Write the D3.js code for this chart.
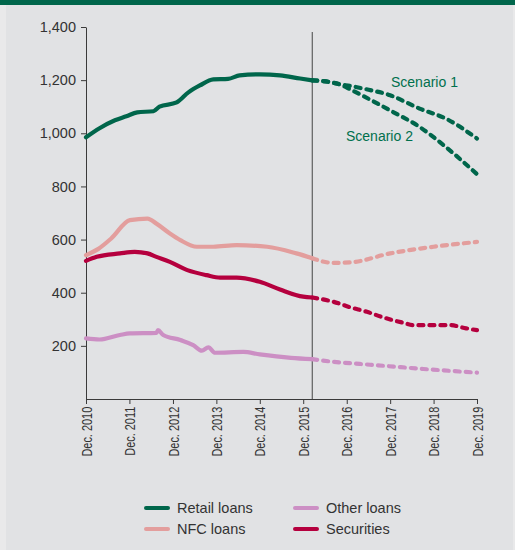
<!DOCTYPE html>
<html>
<head>
<meta charset="utf-8">
<script src="https://cdn.jsdelivr.net/npm/d3@7"></script>
<style>
  body { margin: 0; background: #e9e9ea; }
  svg { display: block; }
</style>
</head>
<body>
<script>
// series, [date, EUR billions]
var retailHist = [
  ["2010-12-01", 985], ["2011-03-25", 1019], ["2011-08-01", 1049], ["2011-11-05", 1064],
  ["2012-02-05", 1079], ["2012-06-20", 1083], ["2012-08-10", 1100], ["2013-01-01", 1116],
  ["2013-04-10", 1154], ["2013-07-15", 1180], ["2013-11-05", 1203], ["2014-03-10", 1205],
  ["2014-06-15", 1218], ["2014-12-01", 1222], ["2015-05-20", 1218], ["2015-11-05", 1206],
  ["2016-02-15", 1199]
];
var retailScen1 = [
  ["2016-02-15", 1199], ["2016-07-10", 1193], ["2016-10-05", 1184], ["2017-01-01", 1178],
  ["2017-04-20", 1168], ["2017-12-01", 1143], ["2018-08-05", 1093], ["2019-03-15", 1055],
  ["2019-12-01", 980]
];
var retailScen2 = [
  ["2016-02-15", 1199], ["2016-07-10", 1193], ["2016-10-05", 1184], ["2017-01-01", 1165],
  ["2017-04-20", 1140], ["2017-12-01", 1086], ["2018-08-05", 1024], ["2019-03-15", 948],
  ["2019-12-01", 846]
];
var nfcLoans = [
  ["2010-12-01", 541], ["2011-03-15", 565], ["2011-07-01", 604], ["2011-12-05", 673],
  ["2012-05-01", 679], ["2012-07-15", 660], ["2012-11-05", 623], ["2013-02-01", 598],
  ["2013-06-20", 573], ["2013-11-05", 573], ["2014-05-20", 579], ["2015-02-01", 573],
  ["2015-10-05", 548], ["2016-02-15", 530], ["2016-08-10", 512], ["2017-01-01", 514],
  ["2017-12-01", 548], ["2018-12-01", 573], ["2019-12-01", 591]
];
var otherLoans = [
  ["2010-12-01", 228], ["2011-03-25", 224], ["2011-09-12", 241], ["2011-12-05", 247],
  ["2012-07-15", 249], ["2012-07-28", 259], ["2012-09-10", 241], ["2013-02-01", 222],
  ["2013-05-20", 203], ["2013-08-01", 182], ["2013-09-25", 194], ["2013-11-20", 174],
  ["2014-07-15", 177], ["2014-12-01", 168], ["2015-08-20", 155], ["2016-02-15", 150],
  ["2016-08-10", 140], ["2017-03-20", 132], ["2017-10-05", 125], ["2018-09-05", 113],
  ["2019-04-15", 106], ["2019-12-01", 99]
];
var securities = [
  ["2010-12-01", 520], ["2011-03-01", 535], ["2011-09-12", 548], ["2012-01-15", 554],
  ["2012-05-01", 548], ["2012-07-15", 535], ["2012-11-05", 516], ["2013-04-01", 485],
  ["2013-09-10", 466], ["2014-01-01", 457], ["2014-05-20", 457], ["2014-12-01", 441],
  ["2015-05-20", 412], ["2015-12-01", 385], ["2016-02-15", 382], ["2016-08-10", 366],
  ["2017-01-01", 345], ["2017-05-20", 328], ["2017-10-05", 307], ["2018-03-20", 287],
  ["2018-06-15", 278], ["2019-04-15", 278], ["2019-09-01", 266], ["2019-12-01", 259]
];

var forecastStart = "2016-02-15";
var yTicks = [200, 400, 600, 800, 1000, 1200, 1400];
var xTickYears = [2010, 2011, 2012, 2013, 2014, 2015, 2016, 2017, 2018, 2019];
var legendNames = ["Retail loans", "NFC loans", "Other loans", "Securities"];
var legendColors = ["#00664b", "#e39e9d", "#cc8fc4", "#b5003e"];
var scenarioLabels = ["Scenario 1", "Scenario 2"];

var width = 515, height = 550;
var font = "'Liberation Sans', Arial, sans-serif";
var parse = d3.timeParse("%Y-%m-%d");

function translate(x, y) {
  return "translate(" + x + "," + y + ")";
}

var svg = d3.select("body").append("svg")
  .attr("width", width)
  .attr("height", height);

svg.append("rect")
  .attr("x", 6).attr("y", 0)
  .attr("width", 507).attr("height", height)
  .attr("fill", "#e1e2e4");

svg.append("rect")
  .attr("x", 0).attr("y", 0)
  .attr("width", width).attr("height", 5)
  .attr("fill", "#00664b");

var x = d3.scaleTime()
  .domain([parse("2010-12-01"), parse("2019-12-01")])
  .range([86, 477]);

var y = d3.scaleLinear()
  .domain([0, 1400])
  .range([399, 27]);

// axes
var yAxis = svg.append("g")
  .attr("transform", translate(86, 0))
  .call(d3.axisLeft(y).tickValues(yTicks).tickSize(5).tickSizeOuter(0).tickPadding(5)
    .tickFormat(d3.format(",")));

var xAxis = svg.append("g")
  .attr("transform", translate(0, 399))
  .call(d3.axisBottom(x)
    .tickValues(xTickYears.map(function (yr) { return new Date(yr, 11, 1); }))
    .tickSize(5).tickSizeOuter(0)
    .tickFormat(function (d) { return "Dec. " + d.getFullYear(); }));

[yAxis, xAxis].forEach(function (g) {
  g.selectAll("path, line").attr("stroke", "#3a3a3a");
  g.selectAll("text").attr("fill", "#333").style("font-family", font);
});

yAxis.selectAll("text").style("font-size", "14.5px");

// condensed, rotated date labels
xAxis.selectAll("text")
  .style("font-size", "14px")
  .attr("text-anchor", "end")
  .attr("transform", "rotate(-90) scale(0.78,1)")
  .attr("x", -10)
  .attr("y", 0)
  .attr("dy", "0.36em");

// forecast divider
svg.append("line")
  .attr("x1", x(parse(forecastStart))).attr("x2", x(parse(forecastStart)))
  .attr("y1", 32).attr("y2", 399)
  .attr("stroke", "#444")
  .attr("stroke-width", 1);

var line = d3.line()
  .x(function (d) { return x(parse(d[0])); })
  .y(function (d) { return y(d[1]); })
  .curve(d3.curveMonotoneX);

var cut = parse(forecastStart);

function drawSeries(data, color) {
  var hist = data.filter(function (d) { return parse(d[0]) <= cut; });
  var proj = data.filter(function (d) { return parse(d[0]) >= cut; });
  drawPart(hist, color, false);
  drawPart(proj, color, true);
}

function drawPart(data, color, dashed) {
  if (data.length < 2) return;
  svg.append("path")
    .datum(data)
    .attr("d", line)
    .attr("fill", "none")
    .attr("stroke", color)
    .attr("stroke-width", 4.2)
    .attr("stroke-linecap", "round")
    .attr("stroke-linejoin", "round")
    .attr("stroke-dasharray", dashed ? "5,6" : null);
}

drawSeries(otherLoans, legendColors[2]);
drawSeries(nfcLoans, legendColors[1]);
drawSeries(securities, legendColors[3]);
drawPart(retailHist, legendColors[0], false);
drawPart(retailScen2, legendColors[0], true);
drawPart(retailScen1, legendColors[0], true);

// scenario labels
svg.append("text")
  .text(scenarioLabels[0])
  .attr("x", 391).attr("y", 87)
  .attr("fill", "#00704d")
  .style("font-family", font)
  .style("font-size", "14px");

svg.append("text")
  .text(scenarioLabels[1])
  .attr("x", 346).attr("y", 141)
  .attr("fill", "#00704d")
  .style("font-family", font)
  .style("font-size", "14px");

// legend
var legend = svg.selectAll("g.legend")
  .data(legendNames)
  .enter()
  .append("g")
  .attr("class", "legend")
  .attr("transform", function (d, i) {
    var col = Math.floor(i / 2), row = i % 2;
    return translate(146 + col * 149, 508 + row * 21);
  });

legend.append("line")
  .attr("x1", 0).attr("x2", 22)
  .attr("y1", 0).attr("y2", 0)
  .attr("stroke", function (d, i) { return legendColors[i]; })
  .attr("stroke-width", 4)
  .attr("stroke-linecap", "round");

legend.append("text")
  .text(function (d) { return d; })
  .attr("x", 31)
  .attr("y", 0)
  .attr("dy", "0.36em")
  .attr("fill", "#333")
  .style("font-family", font)
  .style("font-size", "14.5px");
</script>
</body>
</html>
